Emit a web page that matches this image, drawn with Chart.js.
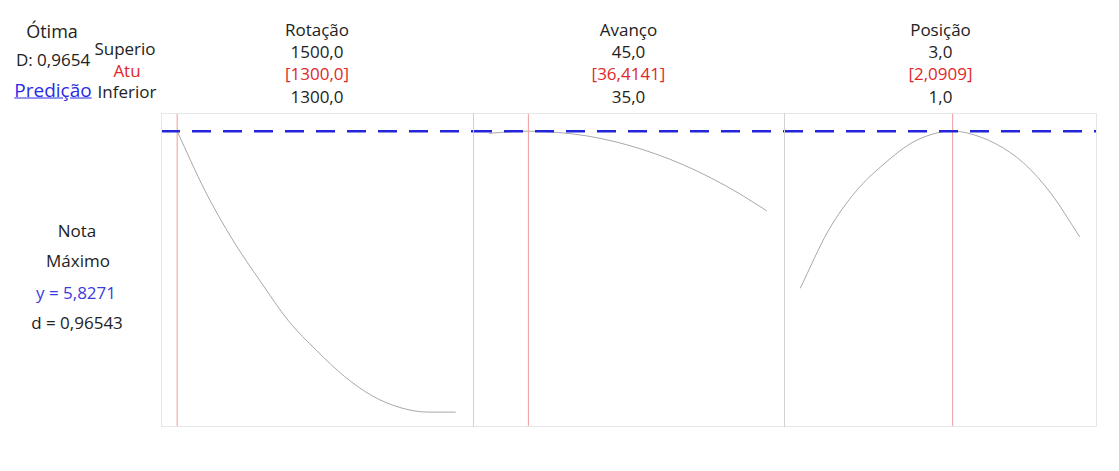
<!DOCTYPE html>
<html lang="pt">
<head>
<meta charset="utf-8">
<script src="https://cdn.jsdelivr.net/npm/chart.js@4/dist/chart.umd.min.js"></script>
<style>
  body { margin: 0; background: #fff; width: 1119px; height: 471px; overflow: hidden; position: relative;
         font-family: "Open Sans", "Noto Sans", sans-serif; color: #222; }
  canvas { position: absolute; top: 113px; }
  .lbl { position: absolute; transform: translate(-50%, -50%); white-space: nowrap; font-size: 17px; line-height: 1; }
  .big { font-size: 18px; }
  .red { color: #e0282a; }
  .blue { color: #3b3be0; }
  .link { color: #2a2ae6; text-decoration: underline; font-size: 19px; }
</style>
</head>
<body>
<canvas id="p0" width="312" height="314" style="left:161px"></canvas>
<canvas id="p1" width="311" height="314" style="left:473px"></canvas>
<canvas id="p2" width="313" height="314" style="left:784px"></canvas>
<div id="labels"></div>
<script>
// fatores e limites
const fatores = ["Rotação", "Avanço", "Posição"];
const superior = [1500, 45, 3];
const inferior = [1300, 35, 1];
const atual = [1300, 36.4141, 2.0909];

// resposta prevista ao longo de cada fator
const rotacao = [1300, 1320, 1340, 1360, 1380, 1400, 1420, 1440, 1460, 1480, 1500];
const notaRotacao = [5.827, 5.227, 4.730, 4.311, 3.917, 3.621, 3.361, 3.164, 3.046, 3.0, 3.0];

const avanco = [35, 36, 36.4141, 37, 38, 39, 40, 41, 42, 43, 44, 45];
const notaAvanco = [5.805, 5.825, 5.8271, 5.823, 5.800, 5.755, 5.687, 5.598, 5.488, 5.355, 5.201, 5.025];

const posicao = [1.0, 1.2, 1.4, 1.6, 1.8, 2.0, 2.0909, 2.2, 2.4, 2.6, 2.8, 3.0];
const notaPosicao = [4.245, 4.823, 5.224, 5.498, 5.711, 5.817, 5.8271, 5.807, 5.700, 5.505, 5.191, 4.764];

const yOtimo = 5.8271;
const dOtimo = 0.96543;
const dComposto = 0.9654;
const yMin = 2.85, yMax = 6.01;

const fmt = (v, casas) => v.toFixed(casas).replace(".", ",");

// textos do cabecalho
const labels = document.getElementById("labels");
function addLabel(text, x, y, cls) {
    const d = document.createElement("div");
    d.className = "lbl" + (cls ? " " + cls : "");
    d.textContent = text;
    d.style.left = x + "px";
    d.style.top = y + "px";
    labels.appendChild(d);
}

addLabel("Ótima", 52, 31, "big");
addLabel("D: " + fmt(dComposto, 4), 53, 59);
addLabel("Predição", 53, 90, "link");
addLabel("Superio", 125, 48);
addLabel("Atu", 127, 70, "red");
addLabel("Inferior", 127, 91);

const centros = [317, 628.5, 940.5];
fatores.forEach((f, i) => {
    const casas = Number.isInteger(atual[i]) ? 1 : 4;
    addLabel(f, centros[i], 29);
    addLabel(fmt(superior[i], 1), centros[i], 51);
    addLabel("[" + fmt(atual[i], casas) + "]", centros[i], 73, "red");
    addLabel(fmt(inferior[i], 1), centros[i], 96);
});

addLabel("Nota", 77, 230);
addLabel("Máximo", 78, 260);
addLabel("y = " + fmt(yOtimo, 4), 76, 292, "blue");
addLabel("d = " + fmt(dOtimo, 5), 77, 322);

// bordas dos paineis
const bordas = {
    id: "bordas",
    afterDraw(chart, args, opts) {
        const ctx = chart.ctx;
        const w = chart.width, h = chart.height;
        ctx.save();
        ctx.lineWidth = 1;
        ctx.strokeStyle = "#e6e6e6";
        ctx.beginPath();
        ctx.moveTo(0, 0.5); ctx.lineTo(w, 0.5);
        ctx.moveTo(0, h - 0.5); ctx.lineTo(w, h - 0.5);
        ctx.stroke();
        ctx.strokeStyle = opts.leftColor;
        ctx.beginPath(); ctx.moveTo(0.5, 0); ctx.lineTo(0.5, h); ctx.stroke();
        if (opts.rightColor) {
            ctx.strokeStyle = opts.rightColor;
            ctx.beginPath(); ctx.moveTo(w - 0.5, 0); ctx.lineTo(w - 0.5, h); ctx.stroke();
        }
        ctx.restore();
    }
};

function makePanel(id, xs, ys, i) {
    const range = superior[i] - inferior[i];
    const xMin = inferior[i] - 0.058 * range;
    const xMax = superior[i] + 0.062 * range;
    const curve = xs.map((x, k) => ({ x: x, y: ys[k] }));

    new Chart(document.getElementById(id), {
        type: "line",
        data: {
            datasets: [
                {
                    data: [{ x: xMin, y: yOtimo }, { x: xMax, y: yOtimo }],
                    borderColor: "#2424d8",
                    borderWidth: 2.5,
                    borderDash: [19, 12],
                    pointRadius: 0,
                    order: 0
                },
                {
                    data: [{ x: atual[i], y: yMin }, { x: atual[i], y: yMax }],
                    borderColor: "#f09a9a",
                    borderWidth: 1,
                    pointRadius: 0,
                    order: 1
                },
                {
                    data: curve,
                    borderColor: "#a8a8a8",
                    borderWidth: 1,
                    pointRadius: 0,
                    cubicInterpolationMode: "monotone",
                    order: 2
                }
            ]
        },
        options: {
            responsive: false,
            animation: false,
            layout: { padding: 0 },
            plugins: {
                legend: { display: false },
                tooltip: { enabled: false },
                bordas: {
                    leftColor: i === 0 ? "#e6e6e6" : "#d2d2d2",
                    rightColor: i === 2 ? "#e6e6e6" : null
                }
            },
            scales: {
                x: { type: "linear", min: xMin, max: xMax, display: false },
                y: { type: "linear", min: yMin, max: yMax, display: false }
            }
        },
        plugins: [bordas]
    });
}

makePanel("p0", rotacao, notaRotacao, 0);
makePanel("p1", avanco, notaAvanco, 1);
makePanel("p2", posicao, notaPosicao, 2);
</script>
</body>
</html>
